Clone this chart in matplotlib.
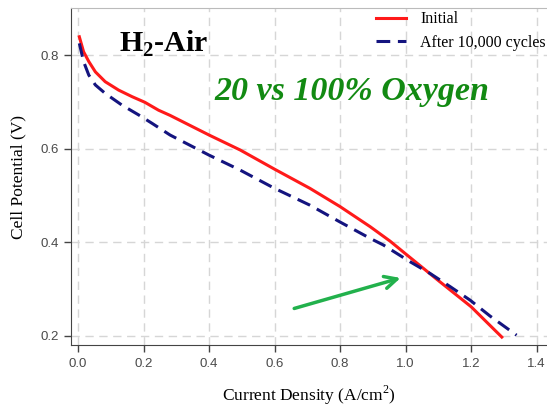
import numpy as np
import matplotlib
matplotlib.use('Agg')
import matplotlib.pyplot as plt

# -----------------------------
# 极化曲线数据
# -----------------------------
initial_x = [0.004, 0.017, 0.033, 0.053, 0.083, 0.124, 0.165, 0.204, 0.246, 0.281,
             0.4, 0.495, 0.6, 0.708, 0.8, 0.892, 0.953, 1.0, 1.1, 1.2, 1.294]
initial_y = [0.839, 0.807, 0.786, 0.764, 0.743, 0.725, 0.711, 0.699, 0.682, 0.671,
             0.629, 0.597, 0.556, 0.515, 0.476, 0.433, 0.402, 0.375, 0.318, 0.262, 0.197]

aged_x = [0.004, 0.017, 0.033, 0.053, 0.083, 0.134, 0.185, 0.226, 0.281, 0.4, 0.495,
          0.6, 0.708, 0.8, 0.892, 0.932, 1.014, 1.075, 1.136, 1.197, 1.258, 1.339]
aged_y = [0.825, 0.786, 0.757, 0.736, 0.718, 0.693, 0.672, 0.654, 0.629, 0.586, 0.554,
          0.515, 0.479, 0.443, 0.408, 0.394, 0.358, 0.333, 0.305, 0.276, 0.242, 0.201]

series_labels = ['Initial', 'After 10,000 cycles']
x_ticks = [0.0, 0.2, 0.4, 0.6, 0.8, 1.0, 1.2, 1.4]
y_ticks = [0.2, 0.4, 0.6, 0.8]

plt.rcParams['mathtext.fontset'] = 'custom'
plt.rcParams['mathtext.rm'] = 'Liberation Serif'
plt.rcParams['mathtext.bf'] = 'Liberation Serif:bold'

fig = plt.figure(figsize=(5.47, 4.07), dpi=100)
ax = fig.add_axes([0.1298, 0.1523, 0.8702, 0.828])

ax.plot(initial_x, initial_y, color='#ff1a1a', lw=2.2, label=series_labels[0])
ax.plot(aged_x, aged_y, color='#14147f', lw=2.2, dashes=(4.5, 2.5), label=series_labels[1])

ax.set_xlim(-0.0214, 1.432)
ax.set_ylim(0.180, 0.9005)
ax.set_xticks(x_ticks)
ax.set_yticks(y_ticks)
ax.set_xticklabels(['%.1f' % v for v in x_ticks])
ax.set_yticklabels(['%.1f' % v for v in y_ticks])
ax.tick_params(direction='out', length=5, width=1, color='#444444', labelcolor='#4a4a4a',
               labelsize=9.5, pad=4)
for lab in ax.get_xticklabels() + ax.get_yticklabels():
    lab.set_fontfamily('Liberation Sans')

ax.grid(True, color='#d6d6d6', lw=1, dashes=(6, 4))
ax.set_axisbelow(True)

ax.spines['left'].set_color('#444444')
ax.spines['bottom'].set_color('#444444')
ax.spines['top'].set_color('#bbbbbb')
ax.spines['right'].set_visible(False)

ax.set_xlabel('Current Density (A/cm$^2$)', family='Liberation Serif', fontsize=12.5, labelpad=10)
ax.set_ylabel('Cell Potential (V)', family='Liberation Serif', fontsize=12.5, labelpad=10)

# 文字标注
ax.text(0.126, 0.824, r'H$_\mathbf{2}$-Air', family='Liberation Serif', fontweight='bold',
        fontsize=21.5, va='center', ha='left')
ax.text(0.418, 0.722, '20 vs 100% Oxygen', family='Liberation Serif', fontweight='bold',
        style='italic', fontsize=24.5, color='#128a12', va='center', ha='left')

# 箭头
ax.annotate('', xy=(0.993, 0.325), xytext=(0.652, 0.2565),
            arrowprops=dict(arrowstyle='->', color='#22b14c', lw=2.5, mutation_scale=22))

ax.legend(loc='upper left', bbox_to_anchor=(0.641, 0.99), frameon=False,
          prop={'family': 'Liberation Serif', 'size': 11.5}, handlelength=1.9,
          handletextpad=0.85, labelspacing=0.45, borderpad=0, borderaxespad=0)

plt.savefig('out.png', dpi=100)
